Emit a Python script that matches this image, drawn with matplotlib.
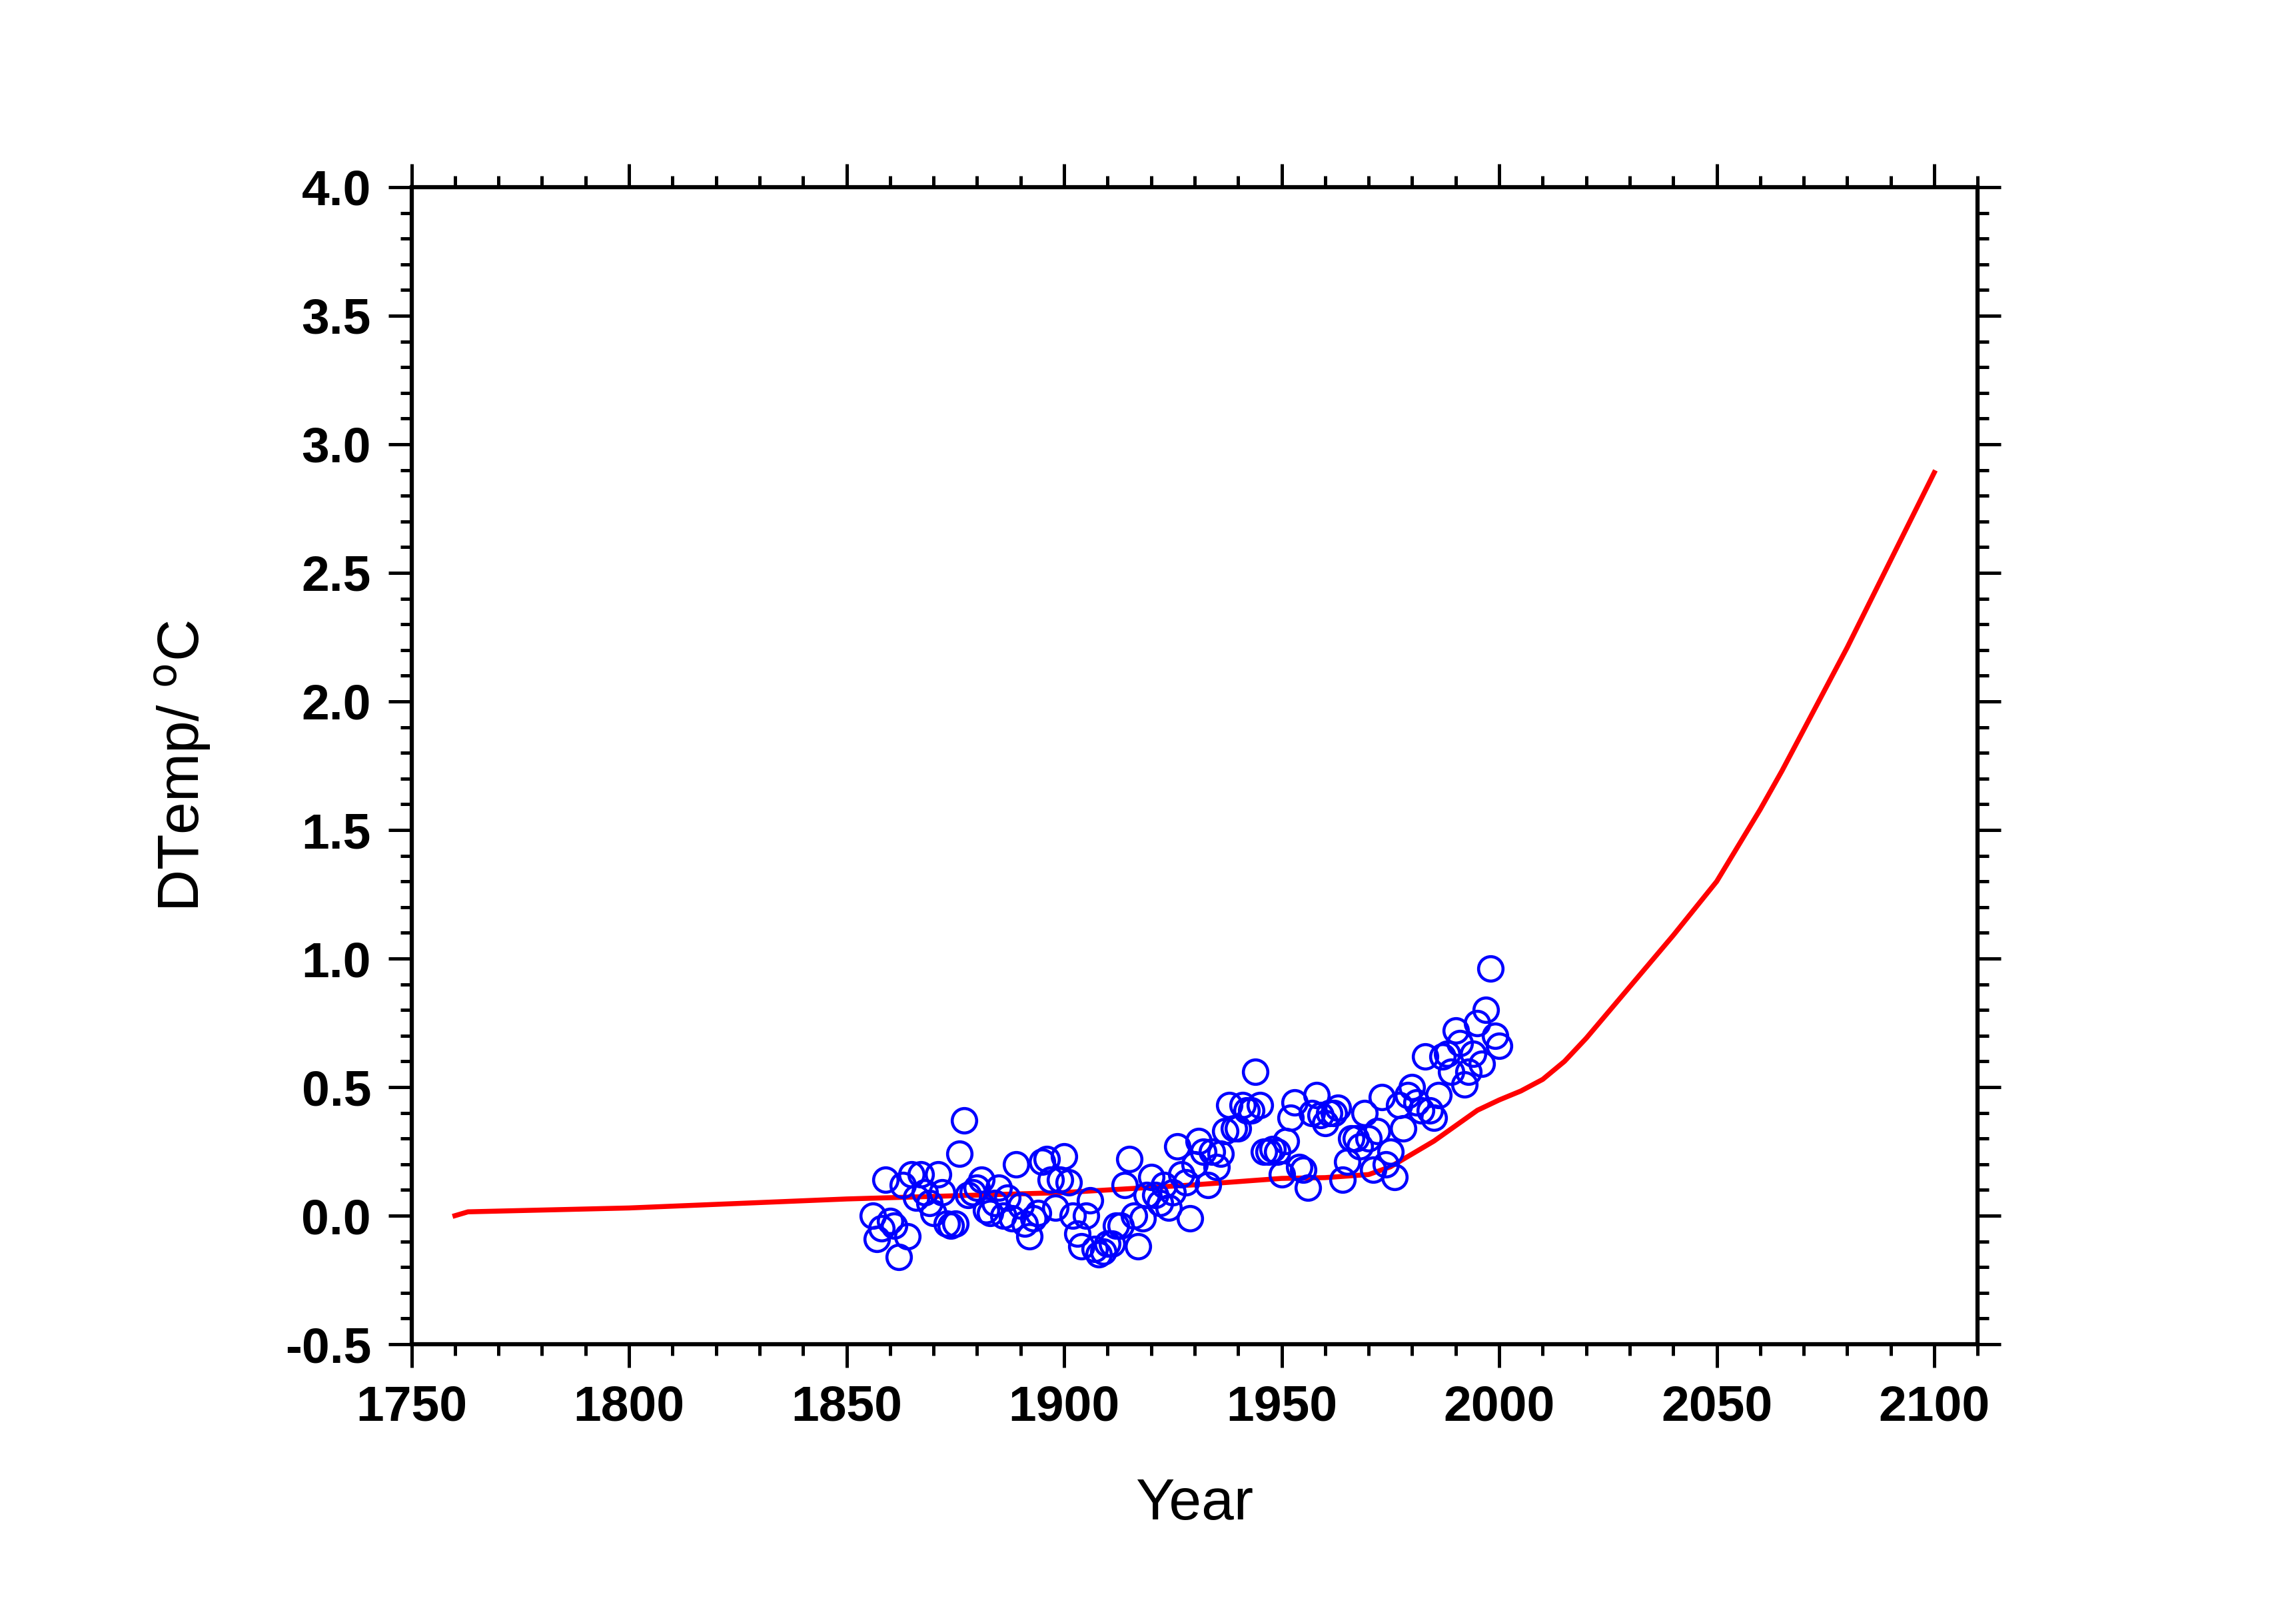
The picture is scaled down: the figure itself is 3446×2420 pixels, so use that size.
import numpy as np
import matplotlib
matplotlib.use("Agg")
import matplotlib.pyplot as plt
from matplotlib.ticker import MultipleLocator, FormatStrFormatter

plt.rcParams["font.family"] = ["Liberation Sans", "DejaVu Sans"]
plt.rcParams["axes.unicode_minus"] = False

# observed temperature anomaly, 1856-2000
obs_years = list(range(1856, 2001))
obs_temp = [
    0.00, -0.09, -0.05, 0.14, -0.02, -0.04, -0.16, 0.12, -0.08, 0.16,   # 1856-1865
    0.07, 0.16, 0.09, 0.05, 0.01, 0.16, 0.09, -0.03, -0.04, -0.03,      # 1866-1875
    0.24, 0.37, 0.08, 0.09, 0.11, 0.14, 0.02, 0.01, 0.05, 0.11,         # 1876-1885
    0.00, 0.07, -0.01, 0.20, 0.04, -0.03, -0.08, -0.01, 0.01, 0.21,     # 1886-1895
    0.22, 0.14, 0.03, 0.14, 0.23, 0.13, 0.00, -0.07, -0.12, 0.00,       # 1896-1905
    0.06, -0.13, -0.15, -0.14, -0.11, -0.11, -0.04, -0.04, 0.12, 0.22,  # 1906-1915
    0.00, -0.12, -0.01, 0.08, 0.15, 0.08, 0.05, 0.12, 0.03, 0.09,       # 1916-1925
    0.27, 0.16, 0.13, -0.01, 0.20, 0.29, 0.25, 0.12, 0.25, 0.19,        # 1926-1935
    0.24, 0.33, 0.43, 0.34, 0.34, 0.43, 0.41, 0.41, 0.56, 0.43,         # 1936-1945
    0.25, 0.25, 0.26, 0.25, 0.16, 0.29, 0.38, 0.44, 0.19, 0.18,         # 1946-1955
    0.11, 0.40, 0.47, 0.39, 0.36, 0.40, 0.40, 0.42, 0.14, 0.21,         # 1956-1965
    0.30, 0.30, 0.27, 0.40, 0.30, 0.18, 0.33, 0.46, 0.20, 0.25,         # 1966-1975
    0.15, 0.43, 0.34, 0.47, 0.50, 0.44, 0.41, 0.62, 0.41, 0.38,         # 1976-1985
    0.47, 0.62, 0.63, 0.56, 0.72, 0.67, 0.51, 0.56, 0.63, 0.75,         # 1986-1995
    0.59, 0.80, 0.96, 0.70, 0.66,                                       # 1996-2000
]

# model curve
model_years = [1760, 1763, 1800, 1850, 1900, 1930, 1950, 1960, 1970, 1975,
               1980, 1985, 1990, 1995, 2000, 2005, 2010, 2015, 2020, 2025,
               2030, 2035, 2040, 2045, 2050, 2055, 2060, 2065, 2070, 2075,
               2080, 2085, 2090, 2095, 2100]
model_temp = [0.00, 0.015, 0.03, 0.065, 0.09, 0.12, 0.145, 0.148, 0.16, 0.19,
              0.24, 0.29, 0.35, 0.41, 0.45, 0.485, 0.53, 0.60, 0.69, 0.79,
              0.89, 0.99, 1.09, 1.195, 1.30, 1.44, 1.58, 1.73, 1.89, 2.05,
              2.21, 2.38, 2.55, 2.72, 2.89]

fig = plt.figure(figsize=(3446 / 300, 2420 / 300), dpi=300)
ax = fig.add_axes([0.1792, 0.1661, 0.6822, 0.7178])

ax.plot(model_years, model_temp, color="#ff0000", linewidth=1.8, zorder=2)
ax.plot(obs_years, obs_temp, linestyle="none", marker="o", markersize=8.8,
        markerfacecolor="none", markeredgecolor="#0000ff", markeredgewidth=1.1,
        zorder=3)

ax.set_xlim(1750, 2110)
ax.set_ylim(-0.5, 4.0)

ax.xaxis.set_major_locator(MultipleLocator(50))
ax.xaxis.set_minor_locator(MultipleLocator(10))
ax.yaxis.set_major_locator(MultipleLocator(0.5))
ax.yaxis.set_minor_locator(MultipleLocator(0.1))
ax.yaxis.set_major_formatter(FormatStrFormatter("%.1f"))

for spine in ax.spines.values():
    spine.set_linewidth(1.5)

ax.tick_params(which="both", direction="out", top=True, right=True, width=1.2)
ax.tick_params(which="major", length=8.5, pad=6, labelsize=18)
ax.tick_params(which="minor", length=4)
for lab in ax.get_xticklabels() + ax.get_yticklabels():
    lab.set_fontweight("bold")

ax.set_xlabel("Year", fontsize=21, labelpad=17)
ax.set_ylabel(r"DTemp/ $^{\rm o}$C", fontsize=21, labelpad=26)

plt.savefig("out.png", dpi=300)
